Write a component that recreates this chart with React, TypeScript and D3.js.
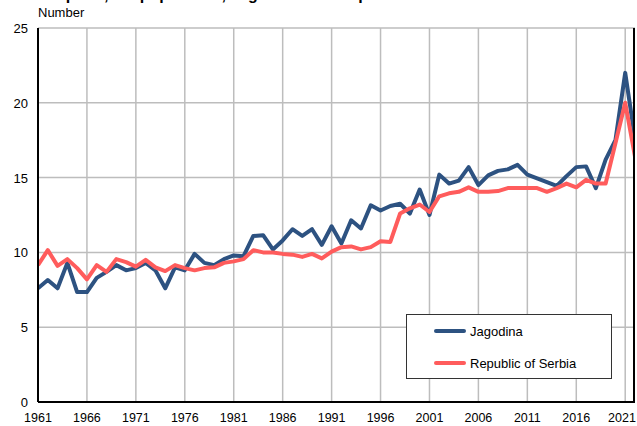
import * as d3 from "d3";

// deaths per 1,000 population
const years = d3.range(1961, 2023);

const jagodina = [
  7.6, 8.15, 7.6, 9.3, 7.35, 7.35, 8.3, 8.7, 9.15, 8.8,
  8.95, 9.3, 8.8, 7.6, 9.0, 8.8, 9.9, 9.3, 9.15, 9.55,
  9.8, 9.75, 11.1, 11.15, 10.2, 10.8, 11.55, 11.1, 11.55, 10.5,
  11.75, 10.6, 12.15, 11.6, 13.15, 12.8, 13.1, 13.25, 12.6, 14.2,
  12.5, 15.2, 14.6, 14.8, 15.7, 14.5, 15.15, 15.45, 15.55, 15.85,
  15.2, 14.95, 14.7, 14.45, 15.1, 15.7, 15.75, 14.3, 16.2, 17.5,
  22.0, 17.6,
];

const serbia = [
  9.15, 10.15, 9.1, 9.55, 8.95, 8.2, 9.15, 8.7, 9.55, 9.35,
  9.05, 9.5, 9.0, 8.75, 9.15, 8.95, 8.8, 8.95, 9.0, 9.3,
  9.4, 9.55, 10.15, 10.0, 10.0, 9.9, 9.85, 9.7, 9.9, 9.6,
  10.05, 10.35, 10.4, 10.2, 10.35, 10.75, 10.7, 12.6, 12.95, 13.2,
  12.7, 13.75, 13.95, 14.05, 14.35, 14.05, 14.05, 14.1, 14.3, 14.3,
  14.3, 14.3, 14.05, 14.3, 14.6, 14.35, 14.85, 14.6, 14.6, 17.3,
  20.0, 16.4,
];

const xTicks = d3.range(1961, 2022, 5);
const yTicks = [0, 5, 10, 15, 20, 25];

const seriesNames = ["Jagodina", "Republic of Serbia"];
const seriesColors = ["#2d5281", "#ff5c5c"];

const W = 637;
const H = 426;
const FONT = "'Liberation Sans', Arial, sans-serif";

export default function App() {
  const left = 38;
  const right = 635;
  const top = 28;
  const bottom = 402;

  const x = d3.scaleLinear().domain([1961, 2022]).range([left, right]);
  const y = d3.scaleLinear().domain([0, 25]).range([bottom, top]);

  const line = d3
    .line<number>()
    .x((_, i) => x(years[i]))
    .y((d) => y(d));

  const data = [jagodina, serbia];

  return (
    <svg
      width={W}
      height={H}
      style={{ position: "absolute", left: 0, top: 0, background: "#fff" }}
      fontFamily={FONT}
    >
      <defs>
        <clipPath id="plot">
          <rect x={left} y={top - 5} width={right - left} height={bottom - top + 5} />
        </clipPath>
      </defs>

      {/* title, cut off at the top of the picture as in the source */}
      <text x={8} y={0} fontSize={16} fontWeight="bold" fill="#000">
        Deaths per 1,000 population, Jagodina and Republic of Serbia
      </text>
      <text x={38} y={17} fontSize={13} fill="#000">
        Number
      </text>

      {/* grid */}
      {yTicks.map((t) => (
        <line
          key={"gy" + t}
          x1={left}
          x2={right}
          y1={y(t)}
          y2={y(t)}
          stroke="#bdbdbd"
          strokeWidth={1.5}
        />
      ))}
      {xTicks.map((t) => (
        <line
          key={"gx" + t}
          x1={x(t)}
          x2={x(t)}
          y1={top}
          y2={bottom}
          stroke="#bdbdbd"
          strokeWidth={1.5}
        />
      ))}

      {/* series */}
      <g clipPath="url(#plot)">
        {data.map((d, i) => (
          <path
            key={i}
            d={line(d) || ""}
            fill="none"
            stroke={seriesColors[i]}
            strokeWidth={4}
            strokeLinejoin="round"
          />
        ))}
      </g>

      {/* frame */}
      <line x1={left} x2={left} y1={top} y2={bottom} stroke="#000" strokeWidth={2} />
      <line x1={left} x2={right} y1={bottom} y2={bottom} stroke="#000" strokeWidth={2} />
      <line x1={right - 1} x2={right - 1} y1={top} y2={bottom} stroke="#000" strokeWidth={2} />

      {/* axis labels */}
      {yTicks.map((t) => (
        <text
          key={"ty" + t}
          x={28}
          y={y(t) + 5}
          fontSize={13}
          textAnchor="end"
          fill="#000"
        >
          {t}
        </text>
      ))}
      {xTicks.map((t) => (
        <text
          key={"tx" + t}
          x={Math.min(x(t), 622)}
          y={422}
          fontSize={12.5}
          textAnchor="middle"
          fill="#000"
        >
          {t}
        </text>
      ))}

      {/* legend */}
      <rect x={406.5} y={314.5} width={205} height={64} fill="#fff" stroke="#333" strokeWidth={1} />
      {seriesNames.map((n, i) => (
        <g key={n}>
          <line
            x1={436}
            x2={464}
            y1={331 + i * 32}
            y2={331 + i * 32}
            stroke={seriesColors[i]}
            strokeWidth={4}
            strokeLinecap="round"
          />
          <text x={470} y={335.5 + i * 32} fontSize={13} fill="#000">
            {n}
          </text>
        </g>
      ))}
    </svg>
  );
}
